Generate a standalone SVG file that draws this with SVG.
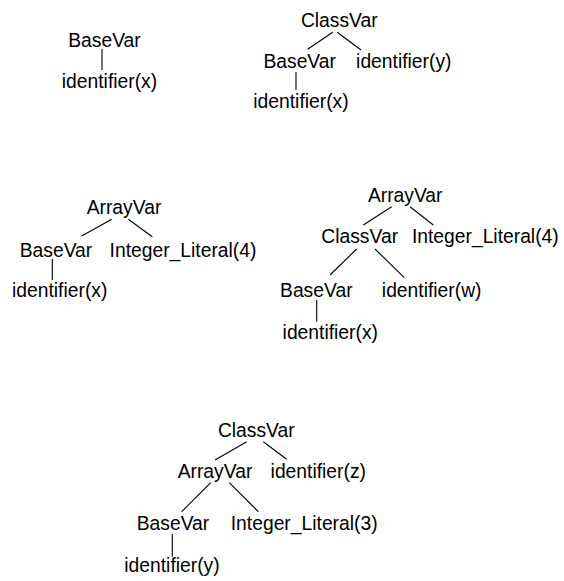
<svg xmlns="http://www.w3.org/2000/svg" width="564" height="581" viewBox="0 0 564 581">
<style>
text{font-family:"Liberation Sans",Arial,sans-serif;font-size:19.3px;fill:#000;text-anchor:middle}
.e line{stroke:#000;stroke-width:1.1}
</style>
<rect width="564" height="581" fill="#fff"/>
<g class="e" id="connectors">
<line x1="102" y1="49" x2="102" y2="70"/>
<line x1="332.7" y1="32.3" x2="307.7" y2="49.3"/>
<line x1="337.3" y1="32.3" x2="361" y2="50"/>
<line x1="296" y1="72" x2="296" y2="90"/>
<line x1="111.7" y1="219.3" x2="81.7" y2="236"/>
<line x1="128.3" y1="219.3" x2="152.3" y2="236.7"/>
<line x1="52.3" y1="259" x2="52.3" y2="280"/>
<line x1="391.7" y1="206.7" x2="363.3" y2="225"/>
<line x1="410" y1="206.7" x2="433.3" y2="225"/>
<line x1="356.7" y1="249" x2="330" y2="275"/>
<line x1="375" y1="249" x2="404.3" y2="277.7"/>
<line x1="316.7" y1="300" x2="316.7" y2="321.7"/>
<line x1="246.7" y1="441.7" x2="215" y2="460"/>
<line x1="263.3" y1="441.7" x2="286.7" y2="459.3"/>
<line x1="210.7" y1="482.7" x2="181.7" y2="511.7"/>
<line x1="229.3" y1="482.7" x2="258.3" y2="511.7"/>
<line x1="172.3" y1="534" x2="172.3" y2="556.7"/>
</g>
<g id="t1-basevar"><text x="104.5" y="47">BaseVar</text></g>
<g id="t1-id-x"><text x="109.5" y="88">identifier(x)</text></g>
<g id="t2-classvar"><text x="339.3" y="27">ClassVar</text></g>
<g id="t2-basevar"><text x="299.7" y="68">BaseVar</text></g>
<g id="t2-id-y"><text x="403.8" y="68">identifier(y)</text></g>
<g id="t2-id-x"><text x="301" y="108">identifier(x)</text></g>
<g id="t3-arrayvar"><text x="124" y="214">ArrayVar</text></g>
<g id="t3-basevar"><text x="56" y="256.5">BaseVar</text></g>
<g id="t3-int4"><text x="183" y="256.5">Integer_Literal(4)</text></g>
<g id="t3-id-x"><text x="59.7" y="297">identifier(x)</text></g>
<g id="t4-arrayvar"><text x="405.2" y="201.5">ArrayVar</text></g>
<g id="t4-classvar"><text x="359.7" y="243.3">ClassVar</text></g>
<g id="t4-int4"><text x="485.3" y="243.3">Integer_Literal(4)</text></g>
<g id="t4-basevar"><text x="316.3" y="296.7">BaseVar</text></g>
<g id="t4-id-w"><text x="431.7" y="296.7">identifier(w)</text></g>
<g id="t4-id-x"><text x="330.3" y="338.5">identifier(x)</text></g>
<g id="t5-classvar"><text x="256.3" y="436.7">ClassVar</text></g>
<g id="t5-arrayvar"><text x="215" y="478.3">ArrayVar</text></g>
<g id="t5-id-z"><text x="318.3" y="478.3">identifier(z)</text></g>
<g id="t5-basevar"><text x="173" y="530">BaseVar</text></g>
<g id="t5-int3"><text x="304.2" y="530">Integer_Literal(3)</text></g>
<g id="t5-id-y"><text x="172" y="571.5">identifier(y)</text></g>
</svg>
